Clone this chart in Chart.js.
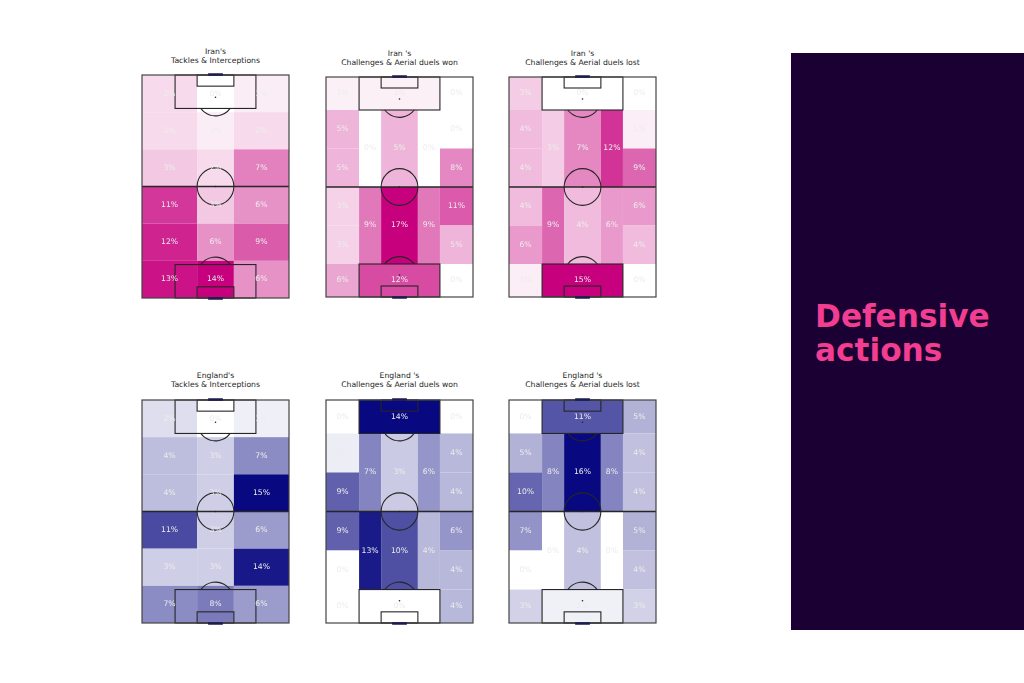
<!DOCTYPE html>
<html>
<head>
<meta charset="utf-8">
<script src="https://cdn.jsdelivr.net/npm/chart.js@4.4.1/dist/chart.umd.min.js"></script>
<style>
  body { margin: 0; background: #fff; width: 1024px; height: 683px; overflow: hidden; position: relative; font-family: 'DejaVu Sans', sans-serif; }
  canvas { position: absolute; }
  .ttl { position: absolute; width: 200px; text-align: center; font-size: 7.7px; line-height: 9.5px; color: #262626; }
  #panel { position: absolute; left: 791px; top: 53px; width: 233px; height: 577px; background: #1a0033; }
  .big { position: absolute; left: 815px; color: #f23d91; font: bold 31.2px 'DejaVu Sans', sans-serif; line-height: 34px; white-space: nowrap; }
</style>
</head>
<body>
<div id="panel"></div>
<div class="big" style="top:299px">Defensive</div>
<div class="big" style="top:333px">actions</div>

<script>
// ---- data ----
// tackles & interceptions: 6 rows (top to bottom) x 3 columns
const tackleColEdges = [0, 30, 50, 80];
const tackleRowEdges = [0, 20, 40, 60, 80, 100, 120];
const iranTackles = [
  [2, 0, 1],
  [2, 1, 2],
  [3, 2, 7],
  [11, 3, 6],
  [12, 6, 9],
  [13, 14, 6]
];
const englandTackles = [
  [2, 0, 1],
  [4, 3, 7],
  [4, 3, 15],
  [11, 3, 6],
  [3, 3, 14],
  [7, 8, 6]
];

// positional zones (challenges & aerial duels)
const wideRowEdges = [0, 18, 39, 60, 81, 102, 120];
const innerColEdges = [18, 30, 50, 62];
const innerRowEdges = [18, 60, 102];
// order: left wing (6, top->bottom), right wing (6), left half-space (2), centre (2), right half-space (2), box top, box bottom
const iranWon     = [1, 5, 5, 3, 3, 6,   0, 0, 8, 11, 5, 0,   0, 9,   5, 17,   0, 9,   1, 12];
const iranLost    = [3, 4, 4, 4, 6, 1,   0, 1, 9, 6, 4, 0,    3, 9,   7, 4,    12, 6,  0, 15];
const englandWon  = [0, 1, 9, 9, 0, 0,   0, 4, 4, 6, 4, 4,    7, 13,  3, 10,   6, 4,   14, 0];
const englandLost = [0, 5, 10, 7, 0, 3,  5, 4, 4, 5, 4, 3,    8, 0,   16, 4,   8, 0,   11, 1];

// ---- colours ----
const iranColor = [199, 0, 125];
const englandColor = [8, 8, 128];

function shade(base, v, max) {
  const t = max ? v / max : 0;
  const c = base.map(b => Math.round(255 + (b - 255) * t));
  return 'rgb(' + c.join(',') + ')';
}

// build cell list for the 3x6 grid
function tackleCells(values) {
  const cells = [];
  for (let r = 0; r < 6; r++) {
    for (let c = 0; c < 3; c++) {
      cells.push({ x0: tackleColEdges[c], x1: tackleColEdges[c + 1], y0: tackleRowEdges[r], y1: tackleRowEdges[r + 1], v: values[r][c] });
    }
  }
  return cells;
}

// build cell list for the positional grid
function positionalCells(values) {
  const cells = [];
  let i = 0;
  [[0, 18], [62, 80]].forEach(([x0, x1]) => {
    for (let r = 0; r < 6; r++) {
      cells.push({ x0: x0, x1: x1, y0: wideRowEdges[r], y1: wideRowEdges[r + 1], v: values[i++] });
    }
  });
  for (let c = 0; c < 3; c++) {
    for (let r = 0; r < 2; r++) {
      cells.push({ x0: innerColEdges[c], x1: innerColEdges[c + 1], y0: innerRowEdges[r], y1: innerRowEdges[r + 1], v: values[i++] });
    }
  }
  cells.push({ x0: 18, x1: 62, y0: 0, y1: 18, v: values[i++] });
  cells.push({ x0: 18, x1: 62, y0: 102, y1: 120, v: values[i++] });
  return cells;
}

function drawPitch(ctx, xs, ys) {
  const X = v => xs.getPixelForValue(v);
  const Y = v => ys.getPixelForValue(v);
  const rx = X(10) - X(0), ry = Y(10) - Y(0);
  ctx.save();
  ctx.strokeStyle = '#262626';
  ctx.lineWidth = 1.1;
  const rect = (x0, y0, x1, y1) => ctx.strokeRect(X(x0), Y(y0), X(x1) - X(x0), Y(y1) - Y(y0));
  // boxes
  rect(18, 0, 62, 18);
  rect(18, 102, 62, 120);
  rect(30, 0, 50, 6);
  rect(30, 114, 50, 120);
  // halfway + centre circle
  ctx.lineWidth = 1.4;
  ctx.beginPath(); ctx.moveTo(X(0), Y(60)); ctx.lineTo(X(80), Y(60)); ctx.stroke();
  ctx.lineWidth = 1.1;
  ctx.beginPath(); ctx.ellipse(X(40), Y(60), rx, ry, 0, 0, Math.PI * 2); ctx.stroke();
  // penalty arcs
  const a = Math.asin(0.6);
  ctx.beginPath(); ctx.ellipse(X(40), Y(12), rx, ry, 0, a, Math.PI - a); ctx.stroke();
  ctx.beginPath(); ctx.ellipse(X(40), Y(108), rx, ry, 0, Math.PI + a, 2 * Math.PI - a); ctx.stroke();
  // spots
  ctx.fillStyle = '#222';
  [[40, 60], [40, 12], [40, 108]].forEach(([sx, sy]) => {
    ctx.beginPath(); ctx.arc(X(sx), Y(sy), 0.8, 0, Math.PI * 2); ctx.fill();
  });
  // outline
  ctx.strokeStyle = '#444';
  ctx.lineWidth = 1.2;
  rect(0, 0, 80, 120);
  // goals
  ctx.strokeStyle = '#1c1c50';
  ctx.lineWidth = 2.5;
  ctx.beginPath(); ctx.moveTo(X(36), Y(0) - 0.5); ctx.lineTo(X(44), Y(0) - 0.5); ctx.stroke();
  ctx.beginPath(); ctx.moveTo(X(36), Y(120) + 0.5); ctx.lineTo(X(44), Y(120) + 0.5); ctx.stroke();
  ctx.restore();
}

function makePitchPlugin(cells, color) {
  const max = Math.max(...cells.map(c => c.v));
  return {
    id: 'pitch',
    beforeDatasetsDraw(chart) {
      const { ctx, scales: { x, y } } = chart;
      cells.forEach(c => {
        const x0 = x.getPixelForValue(c.x0), x1 = x.getPixelForValue(c.x1);
        const y0 = y.getPixelForValue(c.y0), y1 = y.getPixelForValue(c.y1);
        ctx.fillStyle = shade(color, c.v, max);
        ctx.fillRect(x0, y0, x1 - x0, y1 - y0);
      });
      drawPitch(ctx, x, y);
    },
    afterDatasetsDraw(chart) {
      const { ctx, scales: { x, y } } = chart;
      ctx.save();
      ctx.font = '7.7px "DejaVu Sans"';
      ctx.fillStyle = '#ececec';
      ctx.textAlign = 'center';
      ctx.textBaseline = 'middle';
      cells.forEach(c => {
        ctx.fillText(c.v + '%', x.getPixelForValue((c.x0 + c.x1) / 2), y.getPixelForValue((c.y0 + c.y1) / 2));
      });
      ctx.restore();
    }
  };
}

// layout of the six pitches
const pitches = [
  { team: "Iran's",     sub: 'Tackles & Interceptions',        cells: tackleCells(iranTackles),        color: iranColor,    left: 142, top: 74.5, w: 147, h: 223, tt: 46.5 },
  { team: "Iran 's",    sub: 'Challenges & Aerial duels won',  cells: positionalCells(iranWon),        color: iranColor,    left: 326, top: 77,   w: 147, h: 220, tt: 48.5 },
  { team: "Iran 's",    sub: 'Challenges & Aerial duels lost', cells: positionalCells(iranLost),       color: iranColor,    left: 509, top: 77,   w: 147, h: 220, tt: 48.5 },
  { team: "England's",  sub: 'Tackles & Interceptions',        cells: tackleCells(englandTackles),     color: englandColor, left: 142, top: 400,  w: 147, h: 223, tt: 370.5 },
  { team: "England 's", sub: 'Challenges & Aerial duels won',  cells: positionalCells(englandWon),      color: englandColor, left: 326, top: 400,  w: 147, h: 223, tt: 370.5 },
  { team: "England 's", sub: 'Challenges & Aerial duels lost', cells: positionalCells(englandLost),     color: englandColor, left: 509, top: 400,  w: 147, h: 223, tt: 370.5 }
];

const PAD = 4;
pitches.forEach((p, i) => {
  const t = document.createElement('div');
  t.className = 'ttl';
  t.style.left = (p.left + p.w / 2 - 100) + 'px';
  t.style.top = p.tt + 'px';
  t.innerHTML = p.team + '<br>' + p.sub;
  document.body.appendChild(t);

  const cv = document.createElement('canvas');
  cv.width = p.w + PAD * 2;
  cv.height = p.h + PAD * 2;
  cv.style.left = (p.left - PAD) + 'px';
  cv.style.top = (p.top - PAD) + 'px';
  document.body.appendChild(cv);

  new Chart(cv.getContext('2d'), {
    type: 'scatter',
    data: {
      datasets: [{
        data: p.cells.map(c => ({ x: (c.x0 + c.x1) / 2, y: (c.y0 + c.y1) / 2 })),
        pointRadius: 0
      }]
    },
    options: {
      responsive: false,
      animation: false,
      devicePixelRatio: 1,
      layout: { padding: PAD },
      scales: {
        x: { type: 'linear', min: 0, max: 80, display: false },
        y: { type: 'linear', min: 0, max: 120, reverse: true, display: false }
      },
      plugins: { legend: { display: false }, tooltip: { enabled: false }, title: { display: false } }
    },
    plugins: [makePitchPlugin(p.cells, p.color)]
  });
});
</script>
</body>
</html>
